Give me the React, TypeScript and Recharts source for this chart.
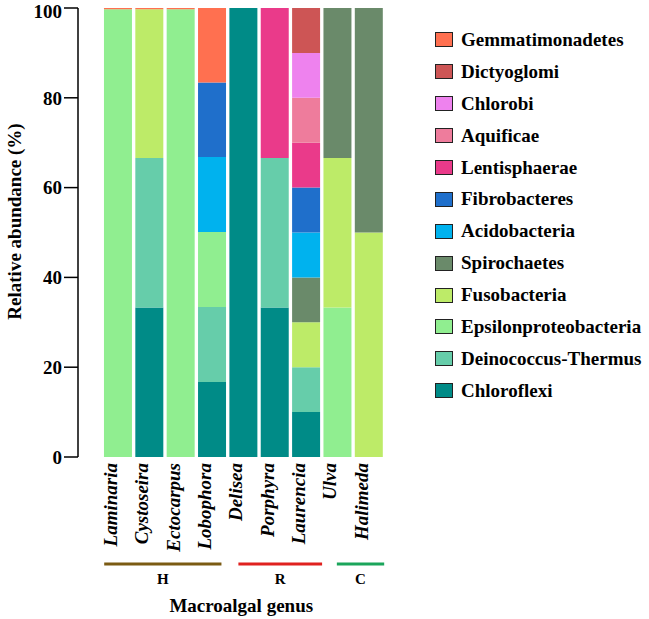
import { Bar, BarChart, Label, XAxis, YAxis } from "recharts";

const genera = [
  "Laminaria",
  "Cystoseira",
  "Ectocarpus",
  "Lobophora",
  "Delisea",
  "Porphyra",
  "Laurencia",
  "Ulva",
  "Halimeda",
];

// relative abundance (%) per genus, bottom of stack first
const chloroflexi = [0, 33.3, 0, 16.7, 100, 33.3, 10, 0, 0];
const deinococcus = [0, 33.3, 0, 16.7, 0, 33.3, 10, 0, 0];
const epsilon = [99.7, 0, 99.7, 16.7, 0, 0, 0, 33.3, 0];
const fusobacteria = [0, 33.1, 0, 0, 0, 0, 10, 33.3, 50];
const spirochaetes = [0, 0, 0, 0, 0, 0, 10, 33.4, 50];
const acidobacteria = [0, 0, 0, 16.7, 0, 0, 10, 0, 0];
const fibrobacteres = [0, 0, 0, 16.6, 0, 0, 10, 0, 0];
const lentisphaerae = [0, 0, 0, 0, 0, 33.4, 10, 0, 0];
const aquificae = [0, 0, 0, 0, 0, 0, 10, 0, 0];
const chlorobi = [0, 0, 0, 0, 0, 0, 10, 0, 0];
const dictyoglomi = [0, 0, 0, 0, 0, 0, 10, 0, 0];
const gemmatimonadetes = [0.3, 0.3, 0.3, 16.6, 0, 0, 0, 0, 0];

const yTicks = [0, 20, 40, 60, 80, 100];

// habitat groups of the genera (H, R, C)
const groupNames = ["H", "R", "C"];
const groupSizes = [4, 3, 2];
const groupColors = ["#7b5b13", "#e0211f", "#1ba55b"];
// where each group line starts/ends, in band widths from first/last centre
const groupLineEnds = [
  [-0.44, 0.3],
  [-0.16, 0.51],
  [-0.02, 0.49],
];

const series = [
  { name: "Chloroflexi", color: "#008b87", values: chloroflexi },
  { name: "Deinococcus-Thermus", color: "#66cdaa", values: deinococcus },
  { name: "Epsilonproteobacteria", color: "#90ee90", values: epsilon },
  { name: "Fusobacteria", color: "#bdeb68", values: fusobacteria },
  { name: "Spirochaetes", color: "#6a8a6a", values: spirochaetes },
  { name: "Acidobacteria", color: "#00b2ee", values: acidobacteria },
  { name: "Fibrobacteres", color: "#1f6fcb", values: fibrobacteres },
  { name: "Lentisphaerae", color: "#ea3a8a", values: lentisphaerae },
  { name: "Aquificae", color: "#ee7c9c", values: aquificae },
  { name: "Chlorobi", color: "#ee82ee", values: chlorobi },
  { name: "Dictyoglomi", color: "#cd5555", values: dictyoglomi },
  { name: "Gemmatimonadetes", color: "#ff7050", values: gemmatimonadetes },
];

const data = genera.map((genus, i) => {
  const row: Record<string, string | number> = { genus };
  series.forEach((s) => {
    row[s.name] = s.values[i];
  });
  return row;
});

const FONT = "'Liberation Serif', 'Times New Roman', serif";
const W = 649;
const H = 619;
const BAND = 31.35;

function GenusTick(props: any) {
  const { x, y, payload } = props;
  const i = genera.indexOf(payload.value);

  let extra = null;
  let end = 0;
  for (let g = 0; g < groupNames.length; g++) {
    const start = end;
    end += groupSizes[g];
    if (i === end - 1) {
      const x1 = x - (end - 1 - start) * BAND + groupLineEnds[g][0] * BAND;
      const x2 = x + groupLineEnds[g][1] * BAND;
      extra = (
        <g>
          <line x1={x1} x2={x2} y1={y + 107} y2={y + 107} stroke={groupColors[g]} strokeWidth={3} />
          <text
            x={(x1 + x2) / 2}
            y={y + 127}
            textAnchor="middle"
            fontFamily={FONT}
            fontWeight="bold"
            fontSize={15}
            fill="#000"
          >
            {groupNames[g]}
          </text>
        </g>
      );
    }
  }

  return (
    <g>
      <text
        x={x - 1}
        y={y + 6}
        transform={`rotate(-90, ${x - 1}, ${y + 6})`}
        textAnchor="end"
        fontFamily={FONT}
        fontStyle="italic"
        fontWeight="bold"
        fontSize={19}
        fill="#000"
      >
        {payload.value}
      </text>
      {extra}
    </g>
  );
}

function YTitle(props: any) {
  const vb = props.viewBox || { y: 8, height: 449 };
  const cy = vb.y + vb.height / 2 - 11;
  return (
    <text
      x={21}
      y={cy}
      transform={`rotate(-90, 21, ${cy})`}
      textAnchor="middle"
      fontFamily={FONT}
      fontWeight="bold"
      fontSize={19}
      fill="#000"
    >
      Relative abundance (%)
    </text>
  );
}

function PhylumLegend() {
  const items = [...series].reverse();
  return (
    <div
      style={{
        position: "absolute",
        left: 435,
        top: 24,
        fontFamily: FONT,
        fontWeight: "bold",
        fontSize: 19,
        color: "#000",
      }}
    >
      {items.map((s) => (
        <div key={s.name} style={{ display: "flex", alignItems: "center", height: 31.9 }}>
          <span
            style={{
              display: "inline-block",
              width: 16,
              height: 13,
              background: s.color,
              border: "1.5px solid #222",
              marginRight: 8,
            }}
          />
          <span>{s.name}</span>
        </div>
      ))}
    </div>
  );
}

export default function App() {
  return (
    <div style={{ position: "absolute", left: 0, top: 0, width: W, height: H, background: "#fff" }}>
      <BarChart
        width={W}
        height={H}
        data={data}
        margin={{ top: 8, right: 264.5, bottom: 0, left: 0 }}
        barCategoryGap="5.3%"
      >
        <XAxis
          dataKey="genus"
          height={162}
          axisLine={false}
          tickLine={false}
          tickSize={0}
          tickMargin={0}
          interval={0}
          padding={{ left: 24.3, right: 0 }}
          tick={<GenusTick />}
        >
          <Label
            value="Macroalgal genus"
            position="insideBottom"
            offset={7}
            dx={10}
            style={{ fontFamily: FONT, fontWeight: "bold", fontSize: 19, fill: "#000" }}
          />
        </XAxis>
        <YAxis
          width={78}
          domain={[0, 100]}
          ticks={yTicks}
          allowDataOverflow
          tickSize={14}
          tickMargin={2}
          axisLine={{ stroke: "#000", strokeWidth: 1.5 }}
          tickLine={{ stroke: "#000", strokeWidth: 1.5 }}
          tick={{ fill: "#000", fontFamily: FONT, fontWeight: "bold", fontSize: 19 }}
          label={<YTitle />}
        />
        {series.map((s) => (
          <Bar
            key={s.name}
            dataKey={s.name}
            stackId="a"
            fill={s.color}
            isAnimationActive={false}
          />
        ))}
      </BarChart>
      <PhylumLegend />
    </div>
  );
}
